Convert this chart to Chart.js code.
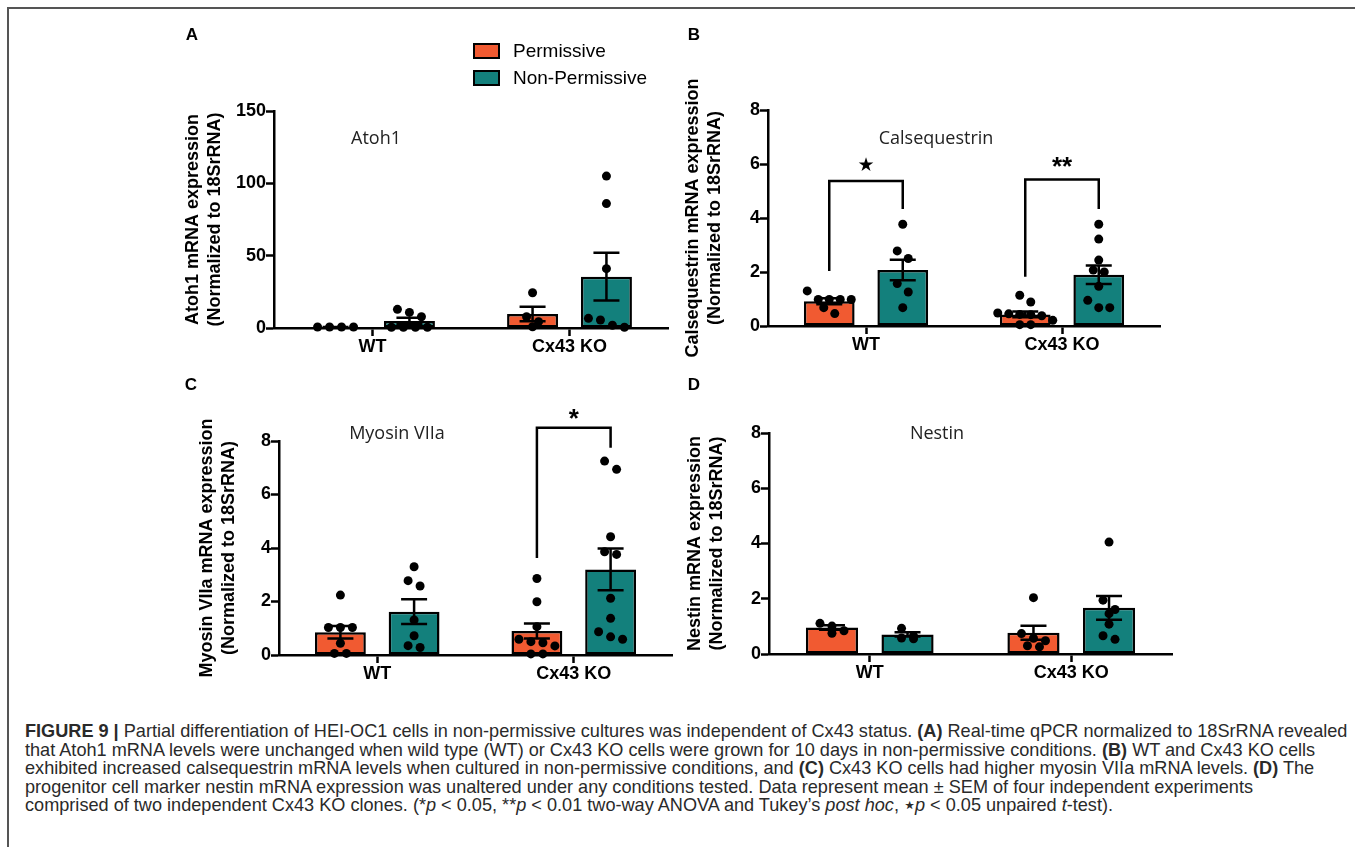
<!DOCTYPE html>
<html>
<head>
<meta charset="utf-8">
<script src="https://cdn.jsdelivr.net/npm/chart.js@4.4.1/dist/chart.umd.min.js"></script>
<style>
    html, body { margin: 0; padding: 0; background: #fff; }
    body { width: 1355px; height: 847px; position: relative; overflow: hidden; font-family: 'Liberation Sans', Arial, sans-serif; color: #000; }
    .frame { position: absolute; left: 7px; top: 7px; width: 1400px; height: 900px; border: 2px solid #555; }
    canvas { position: absolute; }
    .letter { position: absolute; font-weight: bold; font-size: 17px; transform: translate(-50%, -50%); }
    .gene { position: absolute; font: 18px 'Open Sans', sans-serif; color: #222; transform: translate(-50%, -50%); white-space: nowrap; }
    #legend { position: absolute; left: 473px; top: 37px; font-size: 19px; }
    .leg-row { display: flex; align-items: center; height: 27.5px; }
    .leg-box { width: 23px; height: 12px; border: 2px solid #000; margin-right: 13px; }
    #caption { position: absolute; left: 25px; top: 722px; font-size: 15.3px; line-height: 18.5px; color: #2a2a2a; }
    #caption .ln { width: max-content; white-space: nowrap; }
</style>
</head>
<body>
<div class="frame"></div>

<div id="plots"></div>

<div class="letter" style="left:192px;top:35px">A</div>
<div class="letter" style="left:694px;top:35px">B</div>
<div class="letter" style="left:191px;top:385px">C</div>
<div class="letter" style="left:694px;top:385px">D</div>

<div class="gene" style="left:376px;top:137px">Atoh1</div>
<div class="gene" style="left:936px;top:137px">Calsequestrin</div>
<div class="gene" style="left:397px;top:432px">Myosin VIIa</div>
<div class="gene" style="left:937px;top:432px">Nestin</div>

<div id="legend"></div>

<div id="caption">
    <div class="ln" id="cap1"><b>FIGURE 9 |</b> Partial differentiation of HEI-OC1 cells in non-permissive cultures was independent of Cx43 status. <b>(A)</b> Real-time qPCR normalized to 18SrRNA revealed</div>
    <div class="ln">that Atoh1 mRNA levels were unchanged when wild type (WT) or Cx43 KO cells were grown for 10 days in non-permissive conditions. <b>(B)</b> WT and Cx43 KO cells</div>
    <div class="ln">exhibited increased calsequestrin mRNA levels when cultured in non-permissive conditions, and <b>(C)</b> Cx43 KO cells had higher myosin VIIa mRNA levels. <b>(D)</b> The</div>
    <div class="ln">progenitor cell marker nestin mRNA expression was unaltered under any conditions tested. Data represent mean ± SEM of four independent experiments</div>
    <div class="ln">comprised of two independent Cx43 KO clones. (*<i>p</i> &lt; 0.05, **<i>p</i> &lt; 0.01 two-way ANOVA and Tukey’s <i>post hoc</i>, <b>⋆</b><i>p</i> &lt; 0.05 unpaired <i>t</i>-test).</div>
</div>

<script>
const groups = ['WT', 'Cx43 KO'];
const seriesNames = ['Permissive', 'Non-Permissive'];
const seriesColors = ['#F15A31', '#13807C'];

const atohTicks = [0, 50, 100, 150];
const geneTicks = [0, 2, 4, 6, 8];

// A - Atoh1
const atohPermMean = [0.7, 9.7];
const atohPermSem = [0.05, 5.0];
const atohNonMean = [4.8, 35.5];
const atohNonSem = [2.2, 16.5];
const atohPermDots = [[0.7, 0.7, 0.7, 0.7], [24.4, 7.8, 4.4, 0.9]];
const atohNonDots = [[12.9, 10.8, 7.8, 0.5, 0.5, 0.5, 0.5], [105, 86, 41, 6.7, 5.5, 1.9, 0.5]];

// B - Calsequestrin
const calsPermMean = [0.92, 0.43];
const calsPermSem = [0.11, 0.11];
const calsNonMean = [2.07, 1.9];
const calsNonSem = [0.38, 0.34];
const calsPermDots = [[1.30, 0.98, 0.98, 0.98, 0.98, 0.68, 0.46], [1.14, 0.89, 0.48, 0.45, 0.43, 0.42, 0.38, 0.21, 0.05, 0.05]];
const calsNonDots = [[3.77, 2.78, 2.5, 1.57, 1.26, 0.68], [3.77, 3.22, 2.44, 2.07, 2.0, 1.47, 0.95, 0.68, 0.68]];

// C - Myosin VIIa
const myoPermMean = [0.85, 0.9];
const myoPermSem = [0.23, 0.28];
const myoNonMean = [1.62, 3.2];
const myoNonSem = [0.46, 0.78];
const myoPermDots = [[2.24, 1.03, 1.03, 1.03, 0.44, 0.06, 0.06], [2.86, 1.99, 1.06, 0.59, 0.5, 0.46, 0.34, 0.04, 0.04]];
const myoNonDots = [[3.3, 2.78, 2.58, 1.31, 0.72, 0.35, 0.28], [7.25, 6.94, 4.42, 3.86, 3.76, 2.12, 1.37, 0.87, 0.68, 0.59]];

// D - Nestin
const nesPermMean = [0.96, 0.77];
const nesPermSem = [0.08, 0.25];
const nesNonMean = [0.71, 1.67];
const nesNonSem = [0.08, 0.43];
const nesPermDots = [[1.11, 1.01, 0.84, 0.75], [2.04, 0.74, 0.57, 0.48, 0.3, 0.26]];
const nesNonDots = [[0.93, 0.65, 0.58, 0.55], [4.05, 1.95, 1.61, 1.46, 1.08, 0.66, 0.53]];

// significance brackets (group, left end, top, right end, mark, mark height)
const calsBrackets = [
    { group: 0, from: 2.04, top: 5.37, to: 4.33, mark: '★', at: 5.93 },
    { group: 1, from: 1.82, top: 5.43, to: 4.33, mark: '**', at: 6.15 }
];
const myoBrackets = [
    { group: 1, from: 3.63, top: 8.5, to: 7.75, mark: '*', at: 9.08 }
];

Chart.defaults.font.family = "'Liberation Sans', Arial, sans-serif";
Chart.defaults.color = '#000';

const panels = [
    { id: 'A', box: [170, 20, 510, 345], area: [274, 668, 111, 328], ticks: atohTicks, spacing: 12, titleX: 23,
      yTitle: ['Atoh1 mRNA expression', '(Normalized to 18SrRNA)'],
      mean: [atohPermMean, atohNonMean], sem: [atohPermSem, atohNonSem], dots: [atohPermDots, atohNonDots], brackets: [] },
    { id: 'B', box: [670, 20, 510, 345], area: [768, 1160, 110, 326], ticks: geneTicks, spacing: 11, titleX: 23,
      yTitle: ['Calsequestrin mRNA expression', '(Normalized to 18SrRNA)'],
      mean: [calsPermMean, calsNonMean], sem: [calsPermSem, calsNonSem], dots: [calsPermDots, calsNonDots], brackets: calsBrackets },
    { id: 'C', box: [170, 370, 510, 320], area: [279, 672, 441, 655], ticks: geneTicks, spacing: 12, titleX: 37,
      yTitle: ['Myosin VIIa mRNA expression', '(Normalized to 18SrRNA)'],
      mean: [myoPermMean, myoNonMean], sem: [myoPermSem, myoNonSem], dots: [myoPermDots, myoNonDots], brackets: myoBrackets },
    { id: 'D', box: [670, 370, 510, 320], area: [769, 1172, 433, 654], ticks: geneTicks, spacing: 12, titleX: 25,
      yTitle: ['Nestin mRNA expression', '(Normalized to 18SrRNA)'],
      mean: [nesPermMean, nesNonMean], sem: [nesPermSem, nesNonSem], dots: [nesPermDots, nesNonDots], brackets: [] }
];

// rows of dots like a GraphPad scatter: dots closer than one diameter share a row
function swarm(values, center, yScale, xScale, spacing) {
    const pts = values.map(v => ({ v, py: yScale.getPixelForValue(v) })).sort((a, b) => a.py - b.py);
    const rows = [];
    pts.forEach(pt => {
        const row = rows[rows.length - 1];
        if (row && pt.py - row[0].py < 9.5) row.push(pt);
        else rows.push([pt]);
    });
    const unit = xScale.getPixelForValue(1) - xScale.getPixelForValue(0);
    const out = [];
    rows.forEach(row => row.forEach((pt, j) => {
        out.push({ x: center + (j - (row.length - 1) / 2) * spacing / unit, y: pt.v });
    }));
    return out;
}

function addCanvas(p, suffix) {
    const [bx, by, bw, bh] = p.box;
    const c = document.createElement('canvas');
    c.id = 'chart' + p.id + suffix;
    c.width = bw; c.height = bh;
    c.style.left = bx + 'px'; c.style.top = by + 'px';
    document.getElementById('plots').appendChild(c);
    return c;
}

function buildPanel(p) {
    const [bx, by, bw, bh] = p.box;
    const [al, ar, at, ab] = p.area;

    const errorBars = {
        id: 'errorBars',
        afterDatasetDraw(chart, args) {
            const y = chart.scales.y, ctx = chart.ctx;
            const mean = p.mean[args.index], sem = p.sem[args.index];
            ctx.save();
            ctx.strokeStyle = '#000';
            ctx.lineWidth = 2.5;
            args.meta.data.forEach((bar, i) => {
                const top = y.getPixelForValue(mean[i] + sem[i]);
                const bot = y.getPixelForValue(Math.max(0, mean[i] - sem[i]));
                ctx.beginPath();
                ctx.moveTo(bar.x, top); ctx.lineTo(bar.x, bot);
                ctx.moveTo(bar.x - 13, top); ctx.lineTo(bar.x + 13, top);
                ctx.moveTo(bar.x - 13, bot); ctx.lineTo(bar.x + 13, bot);
                ctx.stroke();
            });
            ctx.restore();
        }
    };

    const extras = {
        id: 'extras',
        afterDraw(chart) {
            const ctx = chart.ctx, y = chart.scales.y;
            // y axis title, two lines, not squeezed to the axis height
            ctx.save();
            ctx.translate(y.left + p.titleX, (y.top + y.bottom) / 2);
            ctx.rotate(-Math.PI / 2);
            ctx.font = "bold 18px 'Liberation Sans', Arial, sans-serif";
            ctx.fillStyle = '#000';
            ctx.textAlign = 'center';
            ctx.textBaseline = 'middle';
            p.yTitle.forEach((t, k) => ctx.fillText(t, 0, k * 22.5));
            ctx.restore();

            // significance brackets
            const m0 = chart.getDatasetMeta(0), m1 = chart.getDatasetMeta(1);
            p.brackets.forEach(b => {
                const x1 = m0.data[b.group].x, x2 = m1.data[b.group].x;
                const yt = y.getPixelForValue(b.top);
                ctx.save();
                ctx.strokeStyle = '#000';
                ctx.lineWidth = 2.5;
                ctx.beginPath();
                ctx.moveTo(x1, y.getPixelForValue(b.from));
                ctx.lineTo(x1, yt);
                ctx.lineTo(x2, yt);
                ctx.lineTo(x2, y.getPixelForValue(b.to));
                ctx.stroke();
                ctx.fillStyle = '#000';
                ctx.textAlign = 'center';
                if (b.mark === '★') {
                    ctx.font = "19px 'DejaVu Sans', sans-serif";
                    ctx.textBaseline = 'middle';
                    ctx.fillText(b.mark, (x1 + x2) / 2, y.getPixelForValue(b.at));
                } else {
                    ctx.font = "bold 26px 'Liberation Sans', Arial, sans-serif";
                    ctx.textBaseline = 'alphabetic';
                    ctx.fillText(b.mark, (x1 + x2) / 2, y.getPixelForValue(b.at) + 15);
                }
                ctx.restore();
            });
        }
    };

    const bar = (k) => ({
        label: seriesNames[k], data: p.mean[k],
        backgroundColor: seriesColors[k], borderColor: '#000', borderWidth: 2.5, borderSkipped: false,
        categoryPercentage: 0.75, barPercentage: 0.69
    });

    // bars, axes, error bars and brackets
    const barChart = new Chart(addCanvas(p, ''), {
        type: 'bar',
        data: { labels: groups, datasets: [bar(0), bar(1)] },
        options: {
            responsive: false, animation: false, events: [],
            layout: { padding: { left: 0, right: bx + bw - ar, top: at - by, bottom: 0 } },
            plugins: { legend: { display: false }, tooltip: { enabled: false } },
            scales: {
                x: {
                    type: 'category', offset: true,
                    grid: { display: true, drawOnChartArea: false, offset: false, tickLength: 8, tickWidth: 2.5, tickColor: '#000' },
                    border: { display: true, color: '#000', width: 2.5 },
                    ticks: { color: '#000', font: { size: 18, weight: 'bold' }, padding: 0, maxRotation: 0, autoSkip: false },
                    afterFit: s => { s.height = by + bh - ab; }
                },
                y: {
                    min: 0, max: p.ticks[p.ticks.length - 1],
                    afterBuildTicks: s => { s.ticks = p.ticks.map(v => ({ value: v })); },
                    grid: { display: true, drawOnChartArea: false, tickLength: 8, tickWidth: 2.5, tickColor: '#000' },
                    border: { display: true, color: '#000', width: 2.5 },
                    ticks: { color: '#000', font: { size: 18, weight: 'bold' }, padding: 0 },
                    afterFit: s => { s.width = al - bx; }
                }
            }
        },
        plugins: [errorBars, extras]
    });

    // individual points: a scatter chart with hidden axes over the same plot area
    const dotSet = () => ({ data: [], pointRadius: 4.5, pointBackgroundColor: '#000', pointBorderWidth: 0, clip: false });
    const dotChart = new Chart(addCanvas(p, 'dots'), {
        type: 'scatter',
        data: { datasets: [dotSet(), dotSet()] },
        options: {
            responsive: false, animation: false, events: [],
            layout: { padding: { left: al - bx, right: bx + bw - ar, top: at - by, bottom: by + bh - ab } },
            plugins: { legend: { display: false }, tooltip: { enabled: false } },
            scales: {
                x: { type: 'linear', display: false, min: -0.5, max: 1.5 },
                y: { type: 'linear', display: false, min: 0, max: p.ticks[p.ticks.length - 1] }
            }
        }
    });

    const y = dotChart.scales.y, x = dotChart.scales.x;
    [0, 1].forEach(k => {
        const meta = barChart.getDatasetMeta(k);
        const pts = [];
        groups.forEach((g, i) => {
            const cx = x.getValueForPixel(meta.data[i].x);
            pts.push(...swarm(p.dots[k][i], cx, y, x, p.spacing));
        });
        dotChart.data.datasets[k].data = pts;
    });
    dotChart.update('none');
    return barChart;
}

const charts = panels.map(buildPanel);

// legend built from the first chart's bar datasets
document.getElementById('legend').innerHTML = charts[0].data.datasets.map(ds => `
    <div class="leg-row"><div class="leg-box" style="background:${ds.backgroundColor}"></div>${ds.label}</div>
`).join('');

// fit the caption's first line to the figure width
const capW = document.getElementById('cap1').getBoundingClientRect().width;
document.getElementById('caption').style.fontSize = (15.3 * 1323 / capW).toFixed(2) + 'px';
</script>
</body>
</html>
